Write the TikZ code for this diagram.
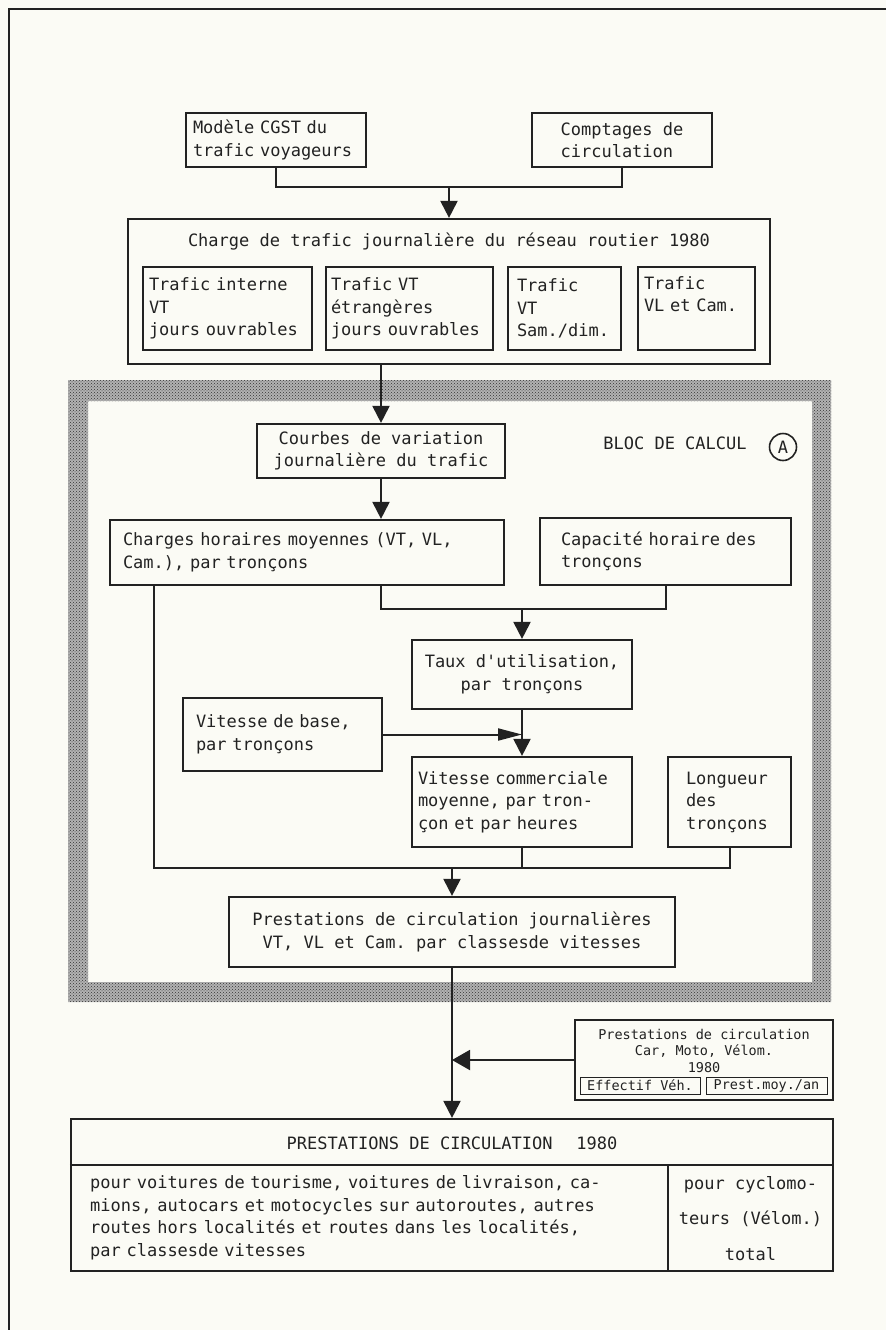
\documentclass[tikz,border=0pt]{standalone}
\usepackage{fontspec}
\setmonofont{DejaVu Sans Mono}
\usetikzlibrary{arrows.meta,patterns}
\definecolor{paper}{HTML}{FBFBF5}
\definecolor{ink}{HTML}{222222}
\newcommand{\mainfnt}{\ttfamily\fontsize{17pt}{22.5pt}\selectfont}
\newcommand{\smlfnt}{\ttfamily\fontsize{13.5pt}{16.5pt}\selectfont}
\tikzset{
  box/.style={draw=ink, line width=2.2pt, inner sep=0pt, font=\mainfnt, text=ink},
  txt/.style={inner sep=0pt, font=\mainfnt, text=ink},
  conn/.style={draw=ink, line width=2pt},
  arr/.style={conn, -{Triangle[length=17pt,width=17pt]}},
  minibox/.style={draw=ink, line width=1pt, inner sep=0pt, font=\smlfnt, text=ink}
}
\begin{document}
\begin{tikzpicture}[x=1pt,y=-1pt]
\useasboundingbox (0,0) rectangle (886,1330);
\fill[paper] (0,0) rectangle (886,1330);
% outer frame (top and left edges only)
\draw[ink, line width=1.5pt] (886,9) -- (9,9) -- (9,1330);

% hatched calculation block
\fill[black!30, even odd rule] (68,380) rectangle (831,1002) (88,401) rectangle (812,982);
\fill[pattern=crosshatch dots, pattern color=black!80, even odd rule] (68,380) rectangle (831,1002) (88,401) rectangle (812,982);

% top sources
\node[box, minimum width=180pt, minimum height=54pt, text width=166pt, align=left] (m1) at (276,140) {Modèle CGST du\\trafic voyageurs};
\node[box, minimum width=180pt, minimum height=54pt, align=left] (m2) at (622,140) {Comptages de\\circulation};

% daily load
\node[box, minimum width=642pt, minimum height=145pt] (cg) at (449,291.5) {};
\node[txt] (cgt) at (449,242) {Charge de trafic journalière du réseau routier 1980};
\node[box, minimum width=169pt, minimum height=83pt, text width=157pt, align=left] (i1) at (227.5,308.5) {Trafic interne\\VT\\jours ouvrables};
\node[box, minimum width=167pt, minimum height=83pt, text width=157pt, align=left] (i2) at (409.5,308.5) {Trafic VT\\étrangères\\jours ouvrables};
\node[box, minimum width=113pt, minimum height=83pt, text width=95pt, align=left] (i3) at (564.5,308.5) {Trafic\\VT\\Sam./dim.};
\node[box, minimum width=117pt, minimum height=83pt, text width=105pt, align=left] (i4) at (696.5,308.5) {Trafic\\VL et Cam.\\\strut};

% calculation block
\node[box, minimum width=248pt, minimum height=54pt, align=center] (co) at (381,451) {Courbes de variation\\journalière du trafic};
\node[txt] (bloc) at (675,443) {BLOC DE CALCUL};
\node[draw=ink, line width=1.6pt, circle, minimum size=27pt, inner sep=0pt, font=\mainfnt, text=ink] (ca) at (783,447) {A};

\node[box, minimum width=394pt, minimum height=65pt, text width=368pt, align=left] (ch) at (307,552.5) {Charges horaires moyennes (VT, VL,\\Cam.), par tronçons};
\node[box, minimum width=251pt, minimum height=67pt, text width=209pt, align=left] (cap) at (665.5,551.5) {Capacité horaire des\\tronçons};
\node[box, minimum width=220pt, minimum height=69pt, align=center] (ta) at (522,674.5) {Taux d'utilisation,\\par tronçons};
\node[box, minimum width=199pt, minimum height=73pt, text width=173pt, align=left] (vb) at (282.5,734.5) {Vitesse de base,\\par tronçons};
\node[box, minimum width=220pt, minimum height=90pt, text width=208pt, align=left] (vc) at (522,802) {Vitesse commerciale\\moyenne, par tron-\\çon et par heures};
\node[box, minimum width=123pt, minimum height=90pt, text width=87pt, align=left] (lo) at (729.5,802) {Longueur\\des\\tronçons};
\node[box, minimum width=446pt, minimum height=70pt, align=center] (pr) at (452,932) {Prestations de circulation journalières\\VT, VL et Cam. par classesde vitesses};

% other vehicles
\node[box, minimum width=258pt, minimum height=80pt] (rb) at (704,1060) {};
\node[inner sep=0pt, font=\smlfnt, text=ink, align=center] (rbt) at (704,1050.5) {Prestations de circulation\\Car, Moto, Vélom.\\1980};
\node[minibox, minimum width=120pt, minimum height=17pt] (mb1) at (640,1085.5) {Effectif Véh.};
\node[minibox, minimum width=121pt, minimum height=17pt] (mb2) at (766.5,1085.5) {Prest.moy./an};

% final result table
\node[box, minimum width=762pt, minimum height=152pt] (bot) at (452,1195) {};
\node[txt] (bott) at (452,1143) {PRESTATIONS DE CIRCULATION\hspace{1.4em}1980};
\draw[conn] (bot.west |- 0,1165) -- (bot.east |- 0,1165);
\draw[conn] (668,1165) -- (bot.south -| 668,0);
\node[txt, anchor=west, text width=570pt, align=left] (botl) at (90,1217.5) {pour voitures de tourisme, voitures de livraison, ca-\\mions, autocars et motocycles sur autoroutes, autres\\routes hors localités et routes dans les localités,\\par classesde vitesses};
\node[txt, align=center] (botr) at (750.5,1218.5) {pour cyclomo-\\[13pt]teurs (Vélom.)\\[13pt]total};

% connectors
\coordinate (jtop) at (449,187);
\draw[conn] (m1.south) |- (jtop) -| (m2.south);
\draw[arr] (jtop) -- (cg.north);
\draw[arr] (co.north |- cg.south) -- (co.north);
\draw[arr] (co.south) -- (co.south |- ch.north);
\coordinate (jmid) at (522,609);
\draw[conn] (co.south |- ch.south) |- (jmid) -| (cap.south);
\draw[arr] (jmid) -- (ta.north);
\draw[arr] (ta.south) -- (vc.north);
\draw[conn, -{Triangle[length=24pt,width=12pt]}] (vb.east) -- (vb.east -| ta.south);
\coordinate (jbot) at (452,868);
\draw[conn] ([xshift=45pt]ch.south west) |- (jbot) -| (lo.south);
\draw[conn] (vc.south) -- (vc.south |- jbot);
\draw[arr] (jbot) -- (pr.north);
\draw[arr] (pr.south) -- (bot.north);
\draw[conn, -{Triangle[length=18pt,width=20pt]}] (rb.west) -- (rb.west -| pr.south);
\end{tikzpicture}
\end{document}
